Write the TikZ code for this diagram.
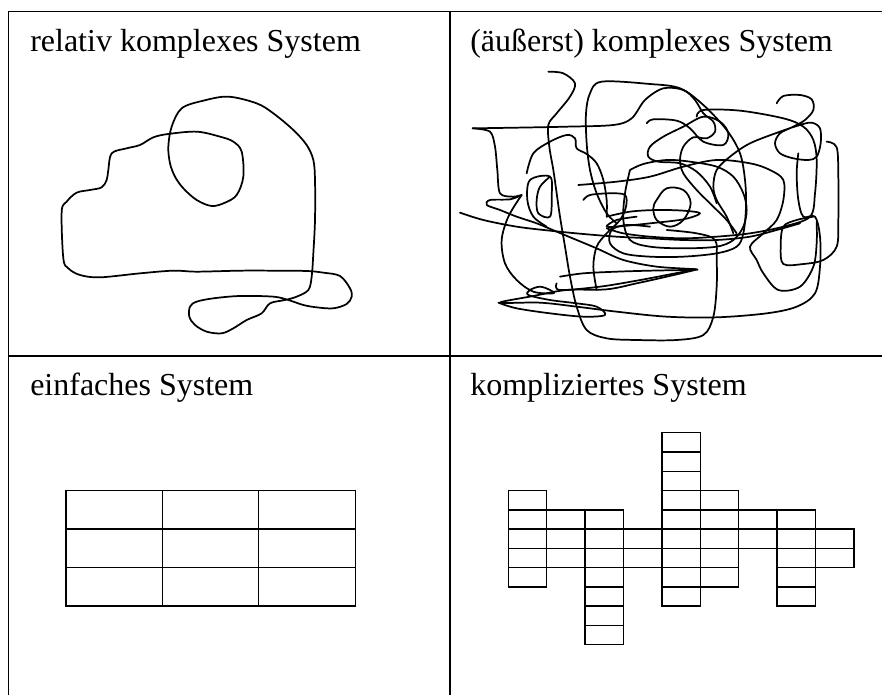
\documentclass[tikz,border=0pt]{standalone}
\usepackage{fontspec}
\setmainfont{Liberation Serif}
\begin{document}
\begin{tikzpicture}[x=0.75pt,y=-0.75pt,
  frame/.style={line width=1.3pt},
  cell/.style={line width=1.1pt},
  scrib/.style={line width=1.3pt, line join=round, line cap=round},
  lbl/.style={anchor=base west, inner sep=0pt, font=\fontsize{24}{28}\selectfont}]
\useasboundingbox (0,0) rectangle (882,695);
% frame
\coordinate (tl) at (8.5,11.5);
\coordinate (tr) at (884,11.5);
\coordinate (bl) at (8.5,697);
\coordinate (mt) at (450,11.5);
\coordinate (mb) at (450,697);
\coordinate (ml) at (8.5,356);
\coordinate (mr) at (884,356);
\draw[frame] (tr) -- (tl) -- (bl);
\draw[frame] (mt) -- (mb);
\draw[frame] (ml) -- (mr);
% labels
\node[lbl] (t1) at (30,51.7) {relativ komplexes System};
\node[lbl] (t2) at (470,51.7) {(äußerst) komplexes System};
\node[lbl] (t3) at (30,396) {einfaches System};
\node[lbl] (t4) at (470,396) {kompliziertes System};
% relatively complex curve
\begin{scope}[shift={(40,80)}, x=0.25pt, y=-0.25pt]
\draw[scrib] plot[smooth cycle, tension=0.55] coordinates {
(385,162) (470,155) (540,170) (580,185) (605,215) (610,290) (590,345) (555,368)
(515,378) (470,360) (430,325) (405,290) (390,250) (385,200) (395,140) (425,85)
(490,62) (565,50) (650,70) (700,100) (760,150) (800,195) (820,240) (825,300)
(825,420) (820,520) (815,590) (805,630) (770,650) (735,660) (690,670) (665,700)
(620,720) (580,745) (545,760) (500,755) (465,735) (448,710) (450,680) (470,665)
(520,655) (600,648) (700,650) (745,660) (790,675) (830,682) (880,685) (920,672)
(935,650) (930,625) (900,588) (850,578) (800,573) (700,572) (600,572) (470,575)
(400,572) (300,580) (180,592) (120,585) (85,565) (70,535) (65,395) (80,365)
(110,338) (150,330) (185,322) (200,300) (205,270) (215,220) (260,205) (300,195)
(340,172)};
\end{scope}
% very complex scribble
\begin{scope}[shift={(450,60)}, x=0.25pt, y=-0.25pt]
\draw[scrib] plot[smooth, tension=0.55] coordinates {
(68,205) (200,203) (350,200) (490,195) (545,175) (585,120) (640,85) (700,90)
(735,120) (760,160) (790,185) (795,215) (770,235) (730,232) (700,260) (690,300)
(700,340) (740,390) (790,440) (830,480) (860,520)};
\draw[scrib] plot[smooth, tension=0.55] coordinates {
(740,170) (760,150) (870,152) (1000,175) (1060,200) (1090,240) (1100,300)
(1095,400) (1080,470) (1000,500) (900,520) (800,530) (700,535) (600,530)
(520,520) (470,505)};
\draw[scrib] plot[smooth, tension=0.55] coordinates {
(295,35) (340,40) (375,70) (360,110) (320,160) (295,195) (298,260) (310,330)
(320,400) (330,470) (345,560) (360,650) (380,740) (410,810) (470,835) (560,840)
(680,840) (760,825) (790,770) (800,680) (800,600) (795,540) (740,520) (650,510)};
\draw[scrib] plot[smooth, tension=0.55] coordinates {
(500,490) (470,460) (440,400) (420,330) (410,250) (408,160) (420,100) (455,65)
(600,72) (690,85) (760,135) (830,210) (870,280) (885,360) (888,440) (880,520)
(860,560) (800,580) (700,590) (600,590) (520,580) (480,550) (485,510) (530,495)
(600,500)};
\draw[scrib] plot[smooth, tension=0.55] coordinates {
(980,130) (1000,108) (1050,105) (1085,118) (1090,150) (1065,180) (1030,200)
(990,220) (975,250) (990,280) (1030,295) (1075,300) (1100,290) (1112,250)
(1110,205) (1085,188) (1050,195) (990,215) (900,250) (840,290) (800,330)
(790,380) (800,420) (830,470) (850,520)};
\draw[scrib] plot[smooth, tension=0.55] coordinates {
(1045,280) (1040,340) (1045,420) (1060,470) (1095,470) (1110,530) (1110,620)
(1095,700) (1040,740) (950,760) (800,772) (650,770) (500,755) (380,740)
(270,728) (150,728) (250,708) (350,690) (470,688) (560,670) (650,650) (735,630)};
\draw[scrib] plot[smooth, tension=0.55] coordinates {
(1130,245) (1160,262) (1165,350) (1165,480) (1160,560) (1120,600) (1060,612)
(1000,612) (992,560) (1000,500) (1040,480) (1090,470)};
\draw[scrib] plot[smooth, tension=0.5] coordinates {
(68,205) (120,215) (135,260) (142,330) (150,400) (190,410) (215,405) (180,418)
(120,420) (110,435) (150,450) (200,470) (260,490) (320,515) (380,540) (440,565)
(520,600) (620,620) (740,628) (720,630)};
\draw[scrib] plot[smooth, tension=0.55] coordinates {
(30,458) (100,480) (200,500) (300,512) (400,522) (500,530) (600,535) (700,540)
(800,540) (900,530) (980,510) (1050,490)};
\draw[scrib] plot[smooth, tension=0.55] coordinates {
(385,375) (500,365) (600,350) (700,320) (800,300) (900,310) (960,330) (1000,360)
(1000,420) (980,480) (940,520) (900,560) (920,600) (940,640) (985,690) (1050,680)
(1090,620) (1100,550) (1100,485)};
\draw[scrib] plot[smooth cycle, tension=0.6] coordinates {
(620,420) (650,385) (700,390) (722,430) (700,480) (660,500) (620,480) (610,445)};
\draw[scrib] plot[smooth, tension=0.55] coordinates {
(470,470) (540,455) (620,450) (700,452) (750,460) (700,478) (600,490) (520,498)
(470,500) (500,480) (560,470)};
\draw[scrib] plot[smooth, tension=0.55] coordinates {
(230,340) (250,280) (300,245) (350,225) (375,235) (380,265) (410,282) (440,310)
(460,360) (470,420) (470,470)};
\draw[scrib] plot[smooth, tension=0.55] coordinates {
(300,350) (270,380) (260,420) (265,460) (300,470) (305,410) (300,350) (240,360)
(232,420) (250,470) (290,500)};
\draw[scrib] plot[smooth, tension=0.55] coordinates {
(215,405) (175,470) (155,540) (165,610) (200,660) (250,695) (310,700) (300,690)
(270,680) (240,690) (235,705) (300,720) (380,730) (440,740) (465,765) (400,770)
(300,760) (200,745) (145,728)};
\draw[scrib] plot[smooth, tension=0.55] coordinates {
(540,330) (580,312) (650,300) (720,305) (800,320) (850,350) (880,400) (890,450)
(880,500) (850,540) (800,560) (700,565) (600,560) (540,540) (520,480) (525,400)
(540,330)};
\draw[scrib] plot[smooth, tension=0.55] coordinates {
(590,190) (610,178) (680,182) (720,205) (760,245) (820,255) (835,220) (810,185)
(760,170) (700,200) (640,230) (600,260) (595,290) (625,305) (690,310) (740,335)
(780,380) (800,430)};
\draw[scrib] plot[smooth, tension=0.55] coordinates {
(400,420) (420,405) (480,400) (525,405) (528,440) (510,480) (470,520) (440,560)
(430,620) (440,690)};
\draw[scrib] plot[smooth, tension=0.55] coordinates {
(330,650) (400,640) (500,635) (600,632) (700,630) (735,628) (650,645) (560,662)
(450,680) (330,690) (320,670)};
\end{scope}
% simple system grid
\draw[cell] (66,490.7) rectangle (355.3,606);
\draw[cell] (162.7,490.7) -- (162.7,606);
\draw[cell] (258.7,490.7) -- (258.7,606);
\draw[cell] (66,529) -- (355.3,529);
\draw[cell] (66,567.7) -- (355.3,567.7);
% complicated system grid
\begin{scope}[shift={(508.3,432.7)}, x=28.8pt, y=-14.45pt]
\foreach \c/\a/\b in {0/3/8, 1/4/7, 2/4/11, 3/5/7, 4/0/9, 5/3/8, 6/4/6, 7/4/9, 8/5/7} {
  \foreach \r in {\a,...,\numexpr\b-1\relax} {
    \draw[cell] (\c,\r) rectangle ++(1,1);
  }
}
\end{scope}
\end{tikzpicture}
\end{document}
